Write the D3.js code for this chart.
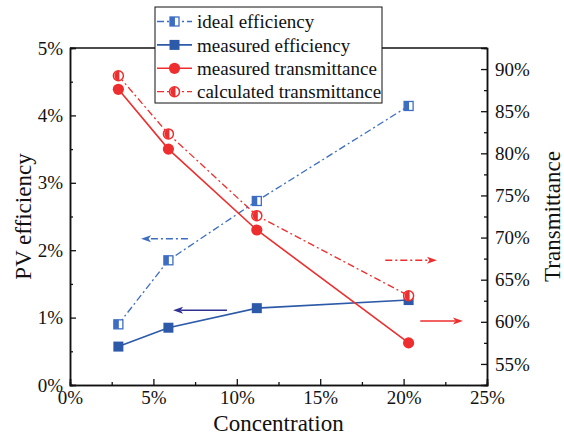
<!DOCTYPE html>
<html>
<head>
<meta charset="utf-8">
<script src="https://cdn.jsdelivr.net/npm/d3@7"></script>
</head>
<body style="margin:0">
<script>
// data
const concentration = [0.029, 0.059, 0.112, 0.203];
const idealEff = [0.0090, 0.0185, 0.0273, 0.0414];
const measuredEff = [0.0057, 0.0085, 0.0114, 0.0126];
const measuredTrans = [0.876, 0.805, 0.709, 0.575];
const calcTrans = [0.892, 0.823, 0.726, 0.631];

const xTicks = [0, 0.05, 0.10, 0.15, 0.20, 0.25];
const leftTicks = [0, 0.01, 0.02, 0.03, 0.04, 0.05];
const rightTicks = [0.55, 0.60, 0.65, 0.70, 0.75, 0.80, 0.85, 0.90];

const legendLabels = ["ideal efficiency", "measured efficiency", "measured transmittance", "calculated transmittance"];

// annotation arrows (data units): from x0 to x1 at level y
const arrowFrom = [0.0707, 0.0941, 0.189, 0.210];
const arrowTo = [0.0426, 0.0618, 0.220, 0.2356];
const arrowLevel = [0.0217, 0.0111, 0.673, 0.601];
const arrowAxis = ["left", "left", "right", "right"];

const W = 564, H = 436;
const margin = { left: 70, right: 77, top: 48, bottom: 51 };
const BLUE_LIGHT = "#3d6dc2", BLUE = "#2c5aa8", NAVY = "#2e3192", RED = "#ee2e2e";
const DASHDOT = "7,3,2,3";
const FONT = "Liberation Serif";

const svg = d3.select("body").append("svg").attr("width", W).attr("height", H)
    .style("font-family", `"${FONT}"`);

const x = d3.scaleLinear().domain([0, 0.25]).range([margin.left, W - margin.right]);
const yL = d3.scaleLinear().domain([0, 0.05]).range([H - margin.bottom, margin.top]);
const yR = d3.scaleLinear().domain([0.525, 0.925]).range([H - margin.bottom, margin.top]);
const pct = d3.format(".0%");

function styleAxis(g) {
    g.attr("font-family", null).attr("font-size", null);
    g.select(".domain").attr("stroke", "#111").attr("stroke-width", 1.5);
    g.selectAll(".tick line").attr("stroke", "#111").attr("stroke-width", 1.3);
    g.selectAll(".tick text").attr("fill", "#111")
        .style("font-family", `"${FONT}"`).style("font-size", "19px");
}

// axes
svg.append("g").attr("transform", `translate(0,${H - margin.bottom})`)
    .call(d3.axisBottom(x).tickValues(xTicks).tickSize(-6).tickPadding(6).tickFormat(pct)).call(styleAxis);
svg.append("g").attr("transform", `translate(0,${H - margin.bottom})`)
    .call(d3.axisBottom(x).tickValues(d3.range(0.025, 0.25, 0.05)).tickSize(-3).tickFormat("")).call(styleAxis);
svg.append("g").attr("transform", `translate(${margin.left},0)`)
    .call(d3.axisLeft(yL).tickValues(leftTicks).tickSize(-6).tickPadding(7).tickFormat(pct)).call(styleAxis);
svg.append("g").attr("transform", `translate(${margin.left},0)`)
    .call(d3.axisLeft(yL).tickValues(d3.range(0.005, 0.05, 0.01)).tickSize(-3).tickFormat("")).call(styleAxis);
svg.append("g").attr("transform", `translate(${W - margin.right},0)`)
    .call(d3.axisRight(yR).tickValues(rightTicks).tickSize(-6).tickPadding(8).tickFormat(pct)).call(styleAxis);
svg.append("g").attr("transform", `translate(${W - margin.right},0)`)
    .call(d3.axisRight(yR).tickValues(d3.range(0.575, 0.92, 0.05)).tickSize(-3).tickFormat("")).call(styleAxis);

// top frame line
svg.append("line")
    .attr("x1", margin.left).attr("x2", W - margin.right)
    .attr("y1", margin.top).attr("y2", margin.top)
    .attr("stroke", "#111").attr("stroke-width", 1.5);

// axis titles
const title = (t) => svg.append("text").attr("text-anchor", "middle").attr("fill", "#111")
    .style("font-family", `"${FONT}"`).style("font-size", "23px").text(t);
title("Concentration").attr("x", x(0.125)).attr("y", 431);
title("PV efficiency").attr("transform", `translate(31,${(margin.top + H - margin.bottom) / 2}) rotate(-90)`);
title("Transmittance").attr("transform", `translate(560,${(margin.top + H - margin.bottom) / 2}) rotate(-90)`);

// arrows
arrowFrom.forEach((x0, i) => {
    const y = arrowAxis[i] === "left" ? yL : yR;
    const color = i === 0 ? BLUE_LIGHT : i === 1 ? NAVY : RED;
    const dashed = i === 0 || i === 2;
    const xa = x(x0), xb = x(arrowTo[i]), yy = y(arrowLevel[i]);
    const dir = Math.sign(xb - xa);
    const headLen = 10, headW = 3.5;
    svg.append("line")
        .attr("x1", xa).attr("x2", xb - dir * headLen * 0.8).attr("y1", yy).attr("y2", yy)
        .attr("stroke", color).attr("stroke-width", 1.5)
        .attr("stroke-dasharray", dashed ? DASHDOT : null);
    svg.append("path")
        .attr("d", `M${xb},${yy}L${xb - dir * headLen},${yy - headW}L${xb - dir * headLen * 0.75},${yy}L${xb - dir * headLen},${yy + headW}Z`)
        .attr("fill", color);
});

// series lines
const line = (ys, yScale) => d3.line().x((d, i) => x(concentration[i])).y(d => yScale(d))(ys);

svg.append("path").attr("d", line(idealEff, yL)).attr("fill", "none")
    .attr("stroke", BLUE_LIGHT).attr("stroke-width", 1.3).attr("stroke-dasharray", DASHDOT);
svg.append("path").attr("d", line(measuredEff, yL)).attr("fill", "none")
    .attr("stroke", BLUE).attr("stroke-width", 1.6);
svg.append("path").attr("d", line(calcTrans, yR)).attr("fill", "none")
    .attr("stroke", RED).attr("stroke-width", 1.3).attr("stroke-dasharray", DASHDOT);
svg.append("path").attr("d", line(measuredTrans, yR)).attr("fill", "none")
    .attr("stroke", RED).attr("stroke-width", 1.6);

// marker helpers
function halfSquare(g, cx, cy, color) {
    const s = 9;
    g.append("rect").attr("x", cx - s / 2).attr("y", cy - s / 2).attr("width", s).attr("height", s)
        .attr("fill", "#fff").attr("stroke", color).attr("stroke-width", 1.3);
    g.append("rect").attr("x", cx - s / 2).attr("y", cy - s / 2).attr("width", s * 0.55).attr("height", s)
        .attr("fill", color);
}
function fullSquare(g, cx, cy, color) {
    const s = 10;
    g.append("rect").attr("x", cx - s / 2).attr("y", cy - s / 2).attr("width", s).attr("height", s)
        .attr("fill", color);
}
function fullCircle(g, cx, cy, color) {
    g.append("circle").attr("cx", cx).attr("cy", cy).attr("r", 5.6).attr("fill", color);
}
function halfCircle(g, cx, cy, color) {
    const r = 5;
    g.append("circle").attr("cx", cx).attr("cy", cy).attr("r", r)
        .attr("fill", "#fff").attr("stroke", color).attr("stroke-width", 1.5);
    g.append("path")
        .attr("d", `M${cx + 1},${cy - r}A${r},${r} 0 0 0 ${cx + 1},${cy + r}Z`)
        .attr("fill", color);
}

const marks = svg.append("g");
concentration.forEach((c, i) => {
    halfSquare(marks, x(c), yL(idealEff[i]), BLUE_LIGHT);
    fullSquare(marks, x(c), yL(measuredEff[i]), BLUE);
    fullCircle(marks, x(c), yR(measuredTrans[i]), RED);
    halfCircle(marks, x(c), yR(calcTrans[i]), RED);
});

// legend
const lg = svg.append("g");
lg.append("rect").attr("x", 155).attr("y", 7).attr("width", 227).attr("height", 96)
    .attr("fill", "#fff").attr("stroke", "#111").attr("stroke-width", 1);
const legColors = [BLUE_LIGHT, BLUE, RED, RED];
const legDash = [DASHDOT, null, null, DASHDOT];
const legMarker = [halfSquare, fullSquare, fullCircle, halfCircle];
legendLabels.forEach((label, i) => {
    const yy = 21.5 + i * 23.4;
    lg.append("line").attr("x1", 157).attr("x2", 192).attr("y1", yy).attr("y2", yy)
        .attr("stroke", legColors[i]).attr("stroke-width", i % 3 === 0 ? 1.3 : 1.6)
        .attr("stroke-dasharray", legDash[i]);
    legMarker[i](lg, 174.5, yy, legColors[i]);
    lg.append("text").attr("x", 197).attr("y", yy).attr("dy", "0.35em").attr("fill", "#111")
        .style("font-family", `"${FONT}"`).style("font-size", "19px").text(label);
});
</script>
</body>
</html>
